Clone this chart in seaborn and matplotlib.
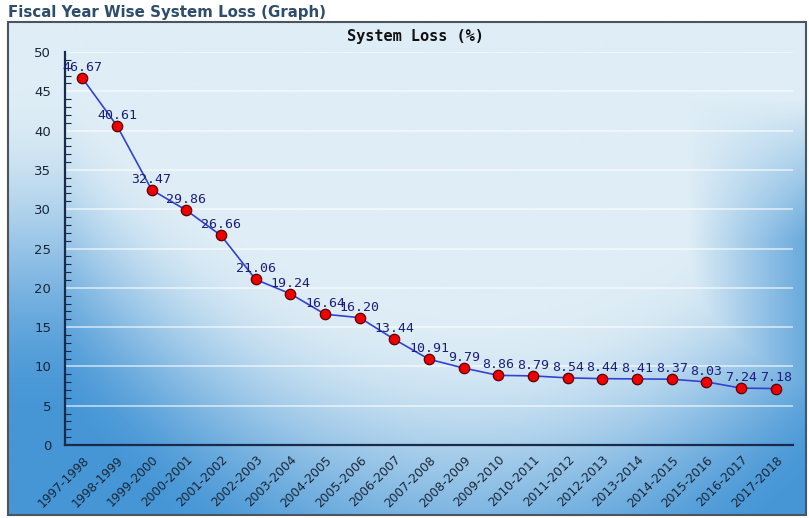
import numpy as np
import pandas as pd
import matplotlib
matplotlib.use("Agg")
import matplotlib.pyplot as plt
from matplotlib.patches import Rectangle
from matplotlib.ticker import MultipleLocator
import seaborn as sns

# Fiscal years and system loss percentages
fiscal_years = ["1997-1998", "1998-1999", "1999-2000", "2000-2001", "2001-2002",
                "2002-2003", "2003-2004", "2004-2005", "2005-2006", "2006-2007",
                "2007-2008", "2008-2009", "2009-2010", "2010-2011", "2011-2012",
                "2012-2013", "2013-2014", "2014-2015", "2015-2016", "2016-2017",
                "2017-2018"]
system_loss = [46.67, 40.61, 32.47, 29.86, 26.66, 21.06, 19.24, 16.64, 16.20,
               13.44, 10.91, 9.79, 8.86, 8.79, 8.54, 8.44, 8.41, 8.37, 8.03,
               7.24, 7.18]
y_ticks = [0, 5, 10, 15, 20, 25, 30, 35, 40, 45, 50]

df = pd.DataFrame({"year": fiscal_years, "loss": system_loss,
                   "pos": np.arange(len(fiscal_years))})

sns.set_theme(style="white")
plt.rcParams["font.family"] = ["DejaVu Sans"]

W, H = 809, 518
fig = plt.figure(figsize=(W / 100, H / 100), dpi=100)

# Background panel: light sky at the top fading to blue at the sides and bottom
bg = fig.add_axes([0, 0, 1, 1], zorder=0)
bg.set_xlim(0, W)
bg.set_ylim(H, 0)
bg.axis("off")
px0, py0, px1, py1 = 8, 22, 806, 515
xx, yy = np.meshgrid(np.linspace(px0, px1, 500), np.linspace(py0, py1, 320))
boundary = 150 + 230 * np.clip(1 - ((xx - 470) / 400.0) ** 2, 0, 1)
t = np.clip((yy - boundary + 60) / 330.0, 0, 1)
t = t * t * (3 - 2 * t)
edge = np.clip((xx - 690) / 120.0, 0, 1) * np.clip((yy - 100) / 140.0, 0, 1)
t = np.maximum(t, 0.8 * edge)
light = np.array([222, 237, 246]) / 255.0
dark = np.array([70, 150, 214]) / 255.0
img = light[None, None, :] * (1 - t[..., None]) + dark[None, None, :] * t[..., None]
bg.imshow(img, extent=(px0, px1, py1, py0), aspect="auto", interpolation="bilinear")
bg.add_patch(Rectangle((px0, py0), px1 - px0, py1 - py0, fill=False,
                       edgecolor="#4a5560", linewidth=1.5))

fig.text(8 / W, 1 - 12 / H, "Fiscal Year Wise System Loss (Graph)",
         fontsize=10.8, fontweight="bold", color="#2e4d6b", va="center", ha="left")
fig.text(415 / W, 1 - 37 / H, "System Loss (%)", family="DejaVu Sans Mono",
         fontsize=11, fontweight="bold", color="#111111", va="center", ha="center")

ax = fig.add_axes([65 / W, 1 - 445 / H, (793 - 65) / W, (445 - 52) / H], zorder=1)
ax.patch.set_alpha(0)

sns.lineplot(data=df, x="pos", y="loss", ax=ax, color="#3442d2", linewidth=1.2,
             marker="o", markersize=7.5, markerfacecolor="#ee0000",
             markeredgecolor="#5a0000", markeredgewidth=0.9, zorder=3)

for x, v in zip(df["pos"], df["loss"]):
    ax.annotate(f"{v:.2f}", (x, v), xytext=(0, 3), textcoords="offset points",
                ha="center", va="bottom", family="DejaVu Sans Mono",
                fontsize=9.5, color="#1c1f7a", zorder=4)

ax.set_xlim(-0.5, len(fiscal_years) - 0.5)
ax.set_ylim(0, 50)
ax.set_yticks(y_ticks)
ax.yaxis.set_minor_locator(MultipleLocator(1))
ax.set_xticks(df["pos"])
ax.set_xticklabels(fiscal_years, rotation=45, ha="right", va="top",
                   rotation_mode="anchor", fontsize=8.8, color="#1a2638")
ax.tick_params(axis="x", direction="in", length=6, width=1.2, color="#1a2a4a", pad=6)
ax.tick_params(axis="y", which="major", direction="in", length=6, width=1.0,
               color="#1a2a4a", labelsize=9.5, labelcolor="#1a2638", pad=10)
ax.tick_params(axis="y", which="minor", direction="in", length=4, width=0.8,
               color="#1a2a4a", left=True)
ax.set_xlabel("")
ax.set_ylabel("")

for yv in y_ticks[1:]:
    ax.axhline(yv, color="white", alpha=0.65, linewidth=1.2, zorder=1)

for side in ["top", "right"]:
    ax.spines[side].set_visible(False)
for side in ["left", "bottom"]:
    ax.spines[side].set_color("#1a2a4a")
    ax.spines[side].set_linewidth(1.6)

fig.savefig("out.png", dpi=100)
